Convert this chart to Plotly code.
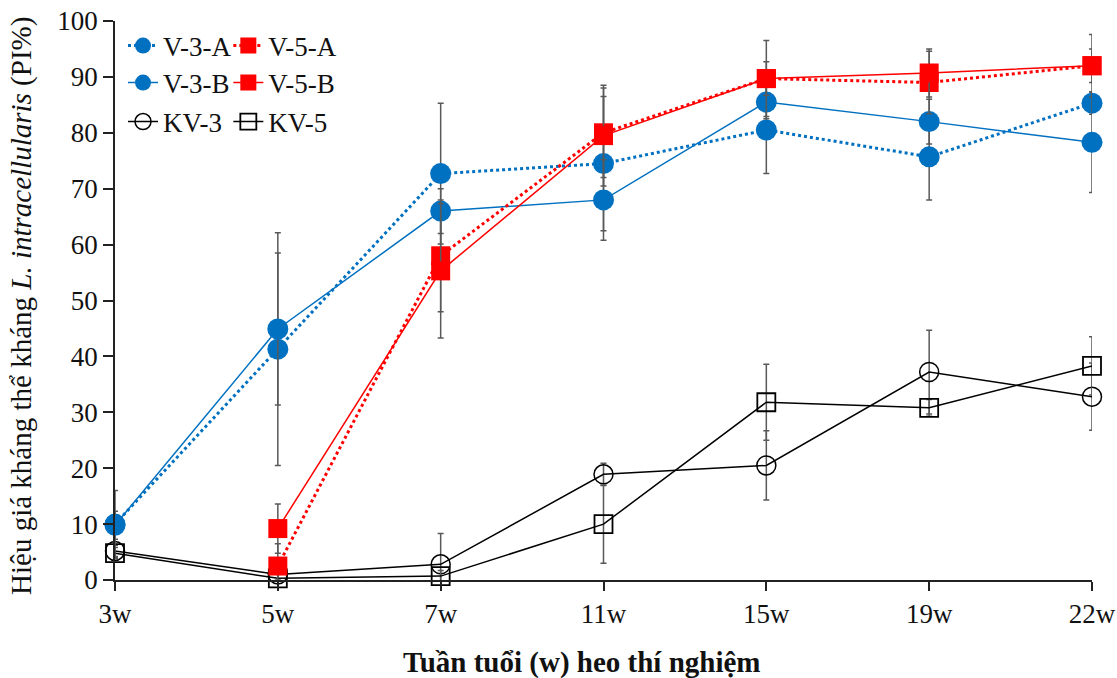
import plotly.graph_objects as go

weeks = ["3w", "5w", "7w", "11w", "15w", "19w", "22w"]

v3a = [10.0, 41.3, 72.7, 74.5, 80.5, 75.7, 85.3]
v3a_err = [6.0, 20.8, 12.6, 12.0, 7.8, 7.7, 2.0]
v3b = [9.8, 44.9, 66.0, 68.0, 85.5, 82.0, 78.3]
v3b_err = [2.5, 13.6, 4.0, 7.2, 3.0, 4.0, 9.0]
v5a = [None, 2.5, 58.0, 80.0, 89.7, 89.0, 92.0]
v5a_err = [0, 4.0, 10.0, 8.0, 6.8, 5.6, 5.6]
v5b = [None, 9.2, 55.3, 79.5, 89.7, 90.7, 92.0]
v5b_err = [0, 4.4, 12.0, 9.0, 3.0, 4.3, 3.0]
kv3 = [5.2, 1.0, 2.8, 18.9, 20.5, 37.2, 32.8]
kv3_err = [1.0, 1.0, 5.5, 2.0, 6.2, 7.5, 6.0]
kv5 = [4.8, 0.3, 0.7, 10.0, 31.8, 30.8, 38.3]
kv5_err = [1.0, 1.0, 1.0, 7.0, 6.8, 1.5, 5.2]

BLUE = "#0070C0"
RED = "#FF0000"
BLACK = "#000000"
ERR = "#595959"
FONT = "Liberation Serif"

series = [
    ("V-3-A", v3a, v3a_err, BLUE, "dot", 3, dict(symbol="circle", size=21, color=BLUE), "legend"),
    ("V-3-B", v3b, v3b_err, BLUE, "solid", 1.5, dict(symbol="circle", size=21, color=BLUE), "legend2"),
    ("KV-3", kv3, kv3_err, BLACK, "solid", 1.5, dict(symbol="circle-open", size=19, color=BLACK, line=dict(width=1.5, color=BLACK)), "legend3"),
    ("V-5-A", v5a, v5a_err, RED, "dot", 3, dict(symbol="square", size=19, color=RED), "legend4"),
    ("V-5-B", v5b, v5b_err, RED, "solid", 1.5, dict(symbol="square", size=19, color=RED), "legend5"),
    ("KV-5", kv5, kv5_err, BLACK, "solid", 1.5, dict(symbol="square-open", size=18, color=BLACK, line=dict(width=1.8, color=BLACK)), "legend6"),
]

fig = go.Figure()
order = [2, 5, 0, 1, 3, 4]
for i in order:
    name, y, err, col, dash, lw, mk, leg = series[i]
    fig.add_trace(go.Scatter(
        x=weeks, y=y, name=name, mode="lines+markers",
        line=dict(color=col, dash=dash, width=lw),
        marker=mk,
        error_y=dict(type="data", array=err, visible=True, color=ERR, thickness=1.5, width=3),
        cliponaxis=False,
        legend=leg,
    ))

legend_common = dict(
    font=dict(family=FONT, size=27, color="#111"),
    bgcolor="rgba(0,0,0,0)",
    itemwidth=30,
    yanchor="middle",
    xanchor="left",
)
col_x = [0.0082, 0.1160]
row_y = [0.9553, 0.8891, 0.8193]
legends = {}
names = ["legend", "legend2", "legend3", "legend4", "legend5", "legend6"]
for k, nm in enumerate(names):
    legends[nm] = dict(x=col_x[k // 3], y=row_y[k % 3], **legend_common)

fig.update_layout(
    width=1117, height=678,
    margin=dict(l=115, r=25, t=21, b=98),
    plot_bgcolor="white", paper_bgcolor="white",
    font=dict(family=FONT, size=27, color="#111"),
    showlegend=True,
    **legends,
    xaxis=dict(
        type="category", range=[0, 6], automargin=False, ticklabeloverflow="allow",
        showline=True, linecolor="#222", linewidth=1.5,
        ticks="outside", ticklen=9, tickwidth=1.5, tickcolor="#222",
        showgrid=False, zeroline=False,
        tickfont=dict(family=FONT, size=27, color="#111"),
    ),
    yaxis=dict(
        range=[0, 100], dtick=10, automargin=False, ticklabeloverflow="allow",
        showline=True, linecolor="#222", linewidth=1.5,
        ticks="outside", ticklen=10, tickwidth=1.5, tickcolor="#222",
        showgrid=False, zeroline=False,
        tickfont=dict(family=FONT, size=27, color="#111"),
    ),
    annotations=[
        dict(
            text="<b>Tuần tuổi (w) heo thí nghiệm</b>",
            xref="paper", yref="paper", x=0.477, y=-0.1467,
            xanchor="center", yanchor="middle", showarrow=False,
            font=dict(family=FONT, size=29, color="#111"),
        ),
        dict(
            text="Hiệu giá kháng thể kháng <i>L. intracellularis</i> (PI%)",
            xref="paper", yref="paper", x=-0.0952, y=0.4902,
            xanchor="center", yanchor="middle", showarrow=False, textangle=-90,
            font=dict(family=FONT, size=29, color="#111"),
        ),
    ],
)

fig.write_html("out.html", config={"displayModeBar": False},
               post_script="document.body.style.margin='0';")
